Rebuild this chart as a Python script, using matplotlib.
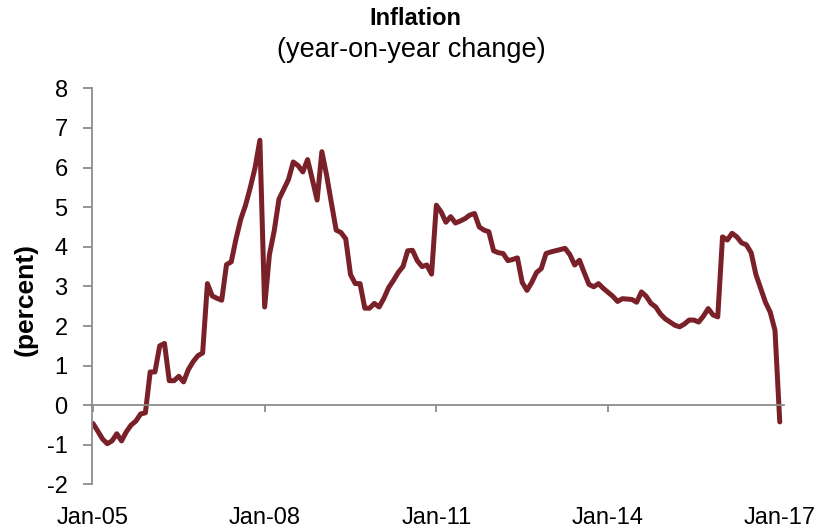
import matplotlib.pyplot as plt
import numpy as np

# Inflation, year-on-year change (percent), monthly Jan-05 .. Jan-17
inflation = [
    -0.46, -0.65, -0.85, -0.97, -0.90, -0.72, -0.90, -0.67, -0.50, -0.40, -0.22, -0.19,   # 2005
    0.84, 0.84, 1.50, 1.56, 0.62, 0.62, 0.73, 0.59, 0.90, 1.10, 1.25, 1.32,               # 2006
    3.07, 2.76, 2.70, 2.65, 3.55, 3.62, 4.20, 4.70, 5.05, 5.50, 6.00, 6.69,               # 2007
    2.48, 3.80, 4.40, 5.20, 5.45, 5.70, 6.14, 6.05, 5.89, 6.20, 5.70, 5.18,               # 2008
    6.40, 5.80, 5.10, 4.42, 4.36, 4.20, 3.30, 3.07, 3.07, 2.45, 2.45, 2.57,               # 2009
    2.48, 2.70, 2.97, 3.15, 3.35, 3.50, 3.90, 3.91, 3.65, 3.50, 3.54, 3.31,               # 2010
    5.05, 4.88, 4.62, 4.76, 4.60, 4.65, 4.71, 4.80, 4.84, 4.50, 4.42, 4.38,               # 2011
    3.90, 3.85, 3.83, 3.65, 3.68, 3.72, 3.10, 2.90, 3.10, 3.35, 3.45, 3.83,               # 2012
    3.87, 3.90, 3.93, 3.96, 3.80, 3.54, 3.66, 3.35, 3.05, 2.99, 3.07, 2.95,               # 2013
    2.85, 2.75, 2.62, 2.69, 2.68, 2.67, 2.60, 2.86, 2.75, 2.57, 2.48, 2.30,               # 2014
    2.18, 2.10, 2.02, 1.98, 2.05, 2.15, 2.15, 2.10, 2.25, 2.44, 2.28, 2.23,               # 2015
    4.25, 4.17, 4.34, 4.25, 4.10, 4.05, 3.85, 3.30, 2.95, 2.60, 2.35, 1.89,               # 2016
    -0.42,                                                                                # 2017
]
tick_labels = ['Jan-05', 'Jan-08', 'Jan-11', 'Jan-14', 'Jan-17']
tick_months = [0, 36, 72, 108, 144]

plt.rcParams['font.family'] = ['Liberation Sans', 'DejaVu Sans']
plt.rcParams['axes.unicode_minus'] = False

fig = plt.figure(figsize=(8.31, 5.31), dpi=100)
ax = fig.add_axes([0.1107, 0.0876, 0.8328, 0.7461])

months = np.arange(len(inflation))
ax.plot(months, inflation, color='#7a2029', linewidth=3.6,
        solid_joinstyle='round', solid_capstyle='round')

ax.set_xlim(-0.2, 144.9)
ax.set_ylim(-2, 8)
ax.set_yticks(range(-2, 9))
ax.set_xticks(tick_months)
ax.set_xticklabels(tick_labels)

axis_grey = '#8c8c8c'
for side in ['top', 'right']:
    ax.spines[side].set_visible(False)
ax.spines['left'].set_color(axis_grey)
ax.spines['left'].set_linewidth(1.3)
ax.spines['bottom'].set_position(('data', 0))
ax.spines['bottom'].set_color(axis_grey)
ax.spines['bottom'].set_linewidth(1.3)

ax.tick_params(axis='y', direction='out', length=6.5, width=1.3, color=axis_grey,
               labelsize=17, pad=11)
ax.tick_params(axis='x', direction='out', length=5, width=1.3, color=axis_grey,
               labelsize=17, pad=68)

ax.set_ylabel('(percent)', fontsize=19, fontweight='bold')
ax.yaxis.set_label_coords(-0.079, 0.466)

fig.text(0.5, 0.965, 'Inflation', ha='center', va='center', fontsize=17, fontweight='bold')
fig.text(0.495, 0.905, '(year-on-year change)', ha='center', va='center', fontsize=19.5)

fig.savefig('out.png', dpi=100)
